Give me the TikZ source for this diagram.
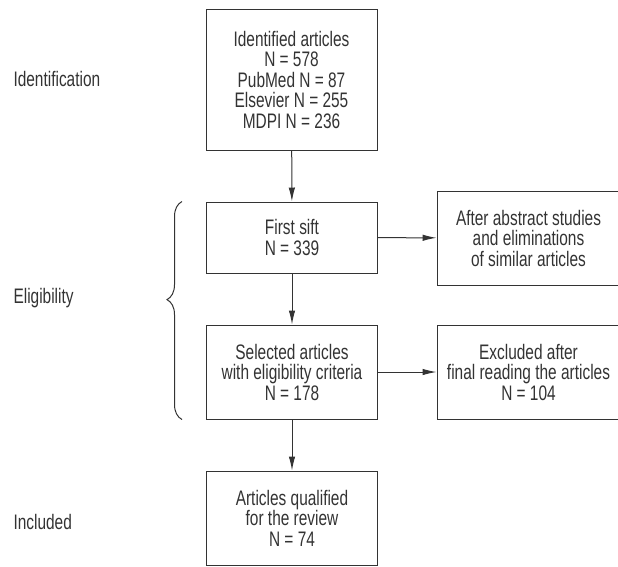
\documentclass[tikz,border=0pt]{standalone}
\usepackage{fontspec}
\setmainfont{Liberation Sans}[FakeStretch=0.735]
\usetikzlibrary{arrows.meta,decorations.pathreplacing}
\begin{document}
\begin{tikzpicture}[x=1pt, y=-1pt, font=\fontsize{21}{20.5}\selectfont,
          every node/.style={text=black!80},
          bx/.style={draw=black!80, line width=1pt, align=center, minimum width=171pt, inner sep=2pt},
          ln/.style={draw=black!80, line width=1pt},
          arr/.style={ln, -{Latex[length=14pt,width=6.5pt]}}]
        \useasboundingbox (0,0) rectangle (618,566);
        % stage labels
        \node[anchor=west] (lid) at (10,79) {Identification};
        \node[anchor=west] (lel) at (10,298) {Eligibility};
        \node[anchor=west] (lin) at (10,522) {Included};
        % main column
        \node[bx, minimum height=141pt] (ident) at (291.5,79.5) {Identified articles\\N = 578\\PubMed N = 87\\Elsevier N = 255\\MDPI N = 236};
        \node[bx, minimum height=71pt] (sift) at (292,237.5) {First sift\\N = 339};
        \node[bx, minimum height=94pt] (sel) at (292,372) {Selected articles\\with eligibility criteria\\N = 178};
        \node[bx, minimum height=94pt] (incl) at (292,518) {Articles qualified\\for the review\\N = 74};
        % side column
        \node[bx, minimum width=183pt, minimum height=94pt] (abst) at (528.5,238) {After abstract studies\\and eliminations\\of similar articles};
        \node[bx, minimum width=183pt, minimum height=94pt] (excl) at (528.5,372) {Excluded after\\final reading the articles\\N = 104};
        \draw[arr] (ident) -- (sift);
        \draw[arr] (sift) -- (sel);
        \draw[arr] (sel) -- (incl);
        \draw[arr] (sift) -- (abst);
        \draw[arr] (sel) -- (excl);
        % brace over eligibility
        \draw[ln, decorate, decoration={brace, amplitude=15pt, aspect=0.55}]
          ([xshift=-24pt]sel.south west) -- ([xshift=-24pt]sift.north west);
      \end{tikzpicture}
\end{document}
